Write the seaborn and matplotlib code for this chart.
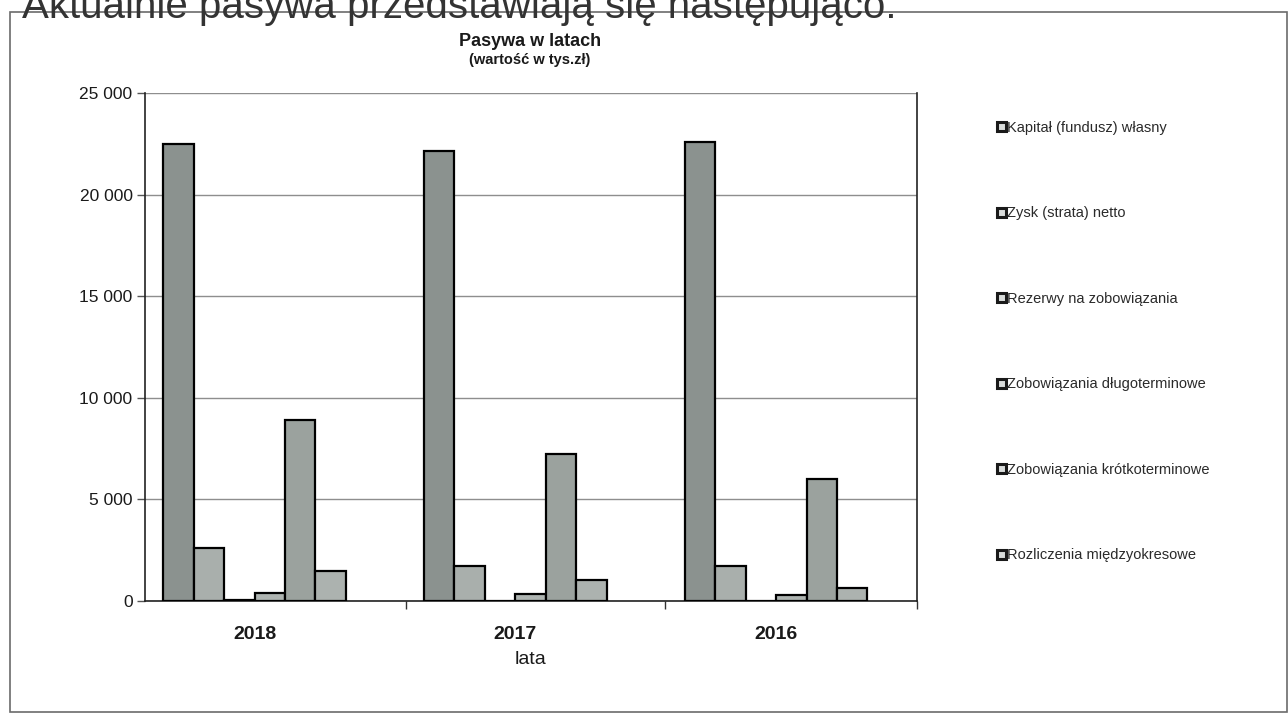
import matplotlib
matplotlib.use("Agg")
import matplotlib.pyplot as plt
import matplotlib.patches as mpatches
from matplotlib.ticker import FuncFormatter, FixedLocator
import seaborn as sns
import pandas as pd

# Balance-sheet liabilities by year (thousand PLN)
years = ["2018", "2017", "2016"]
series_names = [
    "Kapitał (fundusz) własny",
    "Zysk (strata) netto",
    "Rezerwy na zobowiązania",
    "Zobowiązania długoterminowe",
    "Zobowiązania krótkoterminowe",
    "Rozliczenia międzyokresowe",
]
kapital = [22500, 22150, 22600]
zysk = [2600, 1700, 1700]
rezerwy = [60, 20, 20]
zob_dlugo = [370, 340, 280]
zob_krotko = [8900, 7250, 6000]
rozliczenia = [1500, 1050, 650]

values = [kapital, zysk, rezerwy, zob_dlugo, zob_krotko, rozliczenia]
colors = ["#8b928f", "#a9afac", "#b3b9b6", "#aeb4b1", "#9ba29e", "#acb2af"]

rows = []
for name, vals in zip(series_names, values):
    for y, v in zip(years, vals):
        rows.append({"lata": y, "seria": name, "wartosc": v})
df = pd.DataFrame(rows)

sns.set_theme(style="white")
plt.rcParams["font.family"] = ["Liberation Sans", "DejaVu Sans"]

fig = plt.figure(figsize=(12.88, 7.18), dpi=100)
W, H = 1288, 718
ax = fig.add_axes([145 / W, 1 - 601 / H, (917 - 145) / W, (601 - 93) / H])

sns.barplot(
    data=df, x="lata", y="wartosc", hue="seria", order=years,
    hue_order=series_names, palette=colors, width=0.7, gap=0,
    edgecolor="black", linewidth=1.6, saturation=1, ax=ax, legend=False,
    zorder=3,
)

ax.set_ylim(0, 25000)
ax.set_xlim(-0.42, 2.54)
ax.yaxis.set_major_locator(FixedLocator([0, 5000, 10000, 15000, 20000, 25000]))
ax.yaxis.set_major_formatter(FuncFormatter(lambda v, p: f"{int(v):,}".replace(",", " ")))
ax.grid(axis="y", color="#8e8e8e", linewidth=1.0, zorder=0)
ax.grid(axis="x", visible=False)

for side in ["left", "bottom", "right"]:
    ax.spines[side].set_visible(True)
    ax.spines[side].set_color("#222222")
    ax.spines[side].set_linewidth(1.2)
ax.spines["top"].set_visible(False)

ax.tick_params(axis="y", which="major", left=True, length=6, width=1,
               color="#555555", labelsize=12.5, labelcolor="#1a1a1a", pad=3)
ax.tick_params(axis="x", which="major", bottom=False, labelsize=14,
               labelcolor="#1a1a1a", pad=12)
for lbl in ax.get_xticklabels():
    lbl.set_fontweight("bold")
ax.xaxis.set_minor_locator(FixedLocator([0.58, 1.575, 2.54]))
ax.tick_params(axis="x", which="minor", bottom=True, length=6, width=1,
               color="#333333")

ax.set_xlabel("lata", fontsize=14, color="#1a1a1a", labelpad=6)
ax.set_ylabel("")

fig.text(530 / W, 1 - 41 / H, "Pasywa w latach", ha="center", va="center",
         fontsize=13, fontweight="bold", color="#1a1a1a")
fig.text(530 / W, 1 - 60 / H, "(wartość w tys.zł)", ha="center", va="center",
         fontsize=10.5, fontweight="bold", color="#1a1a1a")

# Page text above the chart frame
fig.text(22 / W, 1 - 18 / H, "Aktualnie pasywa przedstawiają się następująco:",
         ha="left", va="baseline", fontsize=29, color="#333333")

# Chart frame
frame = mpatches.Rectangle((10 / W, 1 - 712 / H), (1287 - 10) / W, (712 - 12) / H,
                           transform=fig.transFigure, fill=False,
                           edgecolor="#6b6b6b", linewidth=1.2)
fig.add_artist(frame)

handles = [mpatches.Patch(facecolor="#d9dcdb", edgecolor="#1a1a1a",
                          linewidth=2.2, label=n) for n in series_names]
fig.legend(handles=handles, loc="upper left",
           bbox_to_anchor=(997 / W, 1 - 121 / H), frameon=False,
           fontsize=10.5, labelcolor="#2a2a2a", handlelength=0.6,
           handleheight=0.6, handletextpad=0.12, labelspacing=4.9,
           borderaxespad=0, borderpad=0)

fig.savefig("out.png", dpi=100, facecolor="white")
